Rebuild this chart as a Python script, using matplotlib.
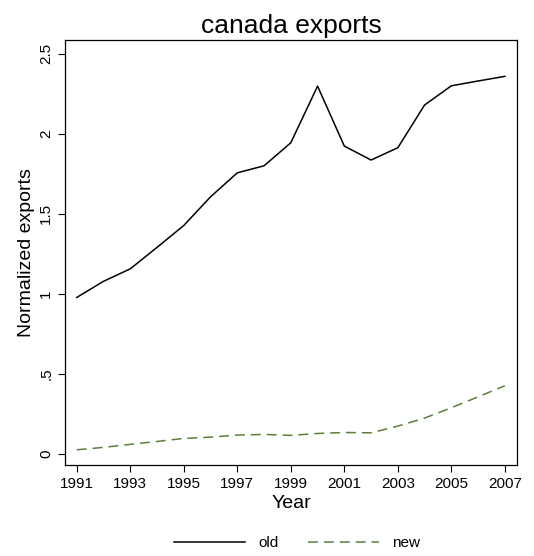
import numpy as np
import matplotlib
matplotlib.use('Agg')
import matplotlib.pyplot as plt

plt.rcParams['font.family'] = ['Liberation Sans', 'DejaVu Sans']

years = list(range(1991, 2008))
old = [0.977, 1.078, 1.156, 1.29, 1.427, 1.606, 1.756, 1.80, 1.944, 2.298,
       1.923, 1.836, 1.913, 2.18, 2.30, 2.33, 2.359]
new = [0.025, 0.040, 0.059, 0.077, 0.096, 0.104, 0.117, 0.121, 0.115, 0.127,
       0.133, 0.131, 0.173, 0.223, 0.288, 0.356, 0.425]

y_ticks = [0, 0.5, 1, 1.5, 2, 2.5]
y_tick_labels = ['0', '.5', '1', '1.5', '2', '2.5']
x_ticks = list(range(1991, 2008, 2))

fig = plt.figure(figsize=(5.34, 5.56), dpi=100)
ax = fig.add_axes([0.1217, 0.1637, 0.8463, 0.7643])

ax.plot(years, old, color='black', linewidth=1.1, label='old')
ax.plot(years, new, color='#5b7f3a', linewidth=1.1, linestyle=(0, (6.5, 3.9)), label='new')

ax.set_xlim(1990.56, 2007.45)
ax.set_ylim(-0.07, 2.586)
ax.set_xticks(x_ticks)
ax.set_yticks(y_ticks)
ax.set_yticklabels(y_tick_labels, rotation=90, va='center')
ax.tick_params(axis='both', labelsize=11, direction='out', length=5, width=0.8, colors='black')

for s in ax.spines.values():
    s.set_linewidth(0.9)

ax.set_xlabel('Year', fontsize=14, labelpad=3)
ax.set_ylabel('Normalized exports', fontsize=14, labelpad=3)
ax.set_title('canada exports', fontsize=19, pad=5)

fig.legend(loc='center', bbox_to_anchor=(0.556, 0.023), ncol=2, frameon=False,
           fontsize=11, handlelength=4.65, columnspacing=1.9, handletextpad=0.85)

fig.savefig('out.png', dpi=100)
